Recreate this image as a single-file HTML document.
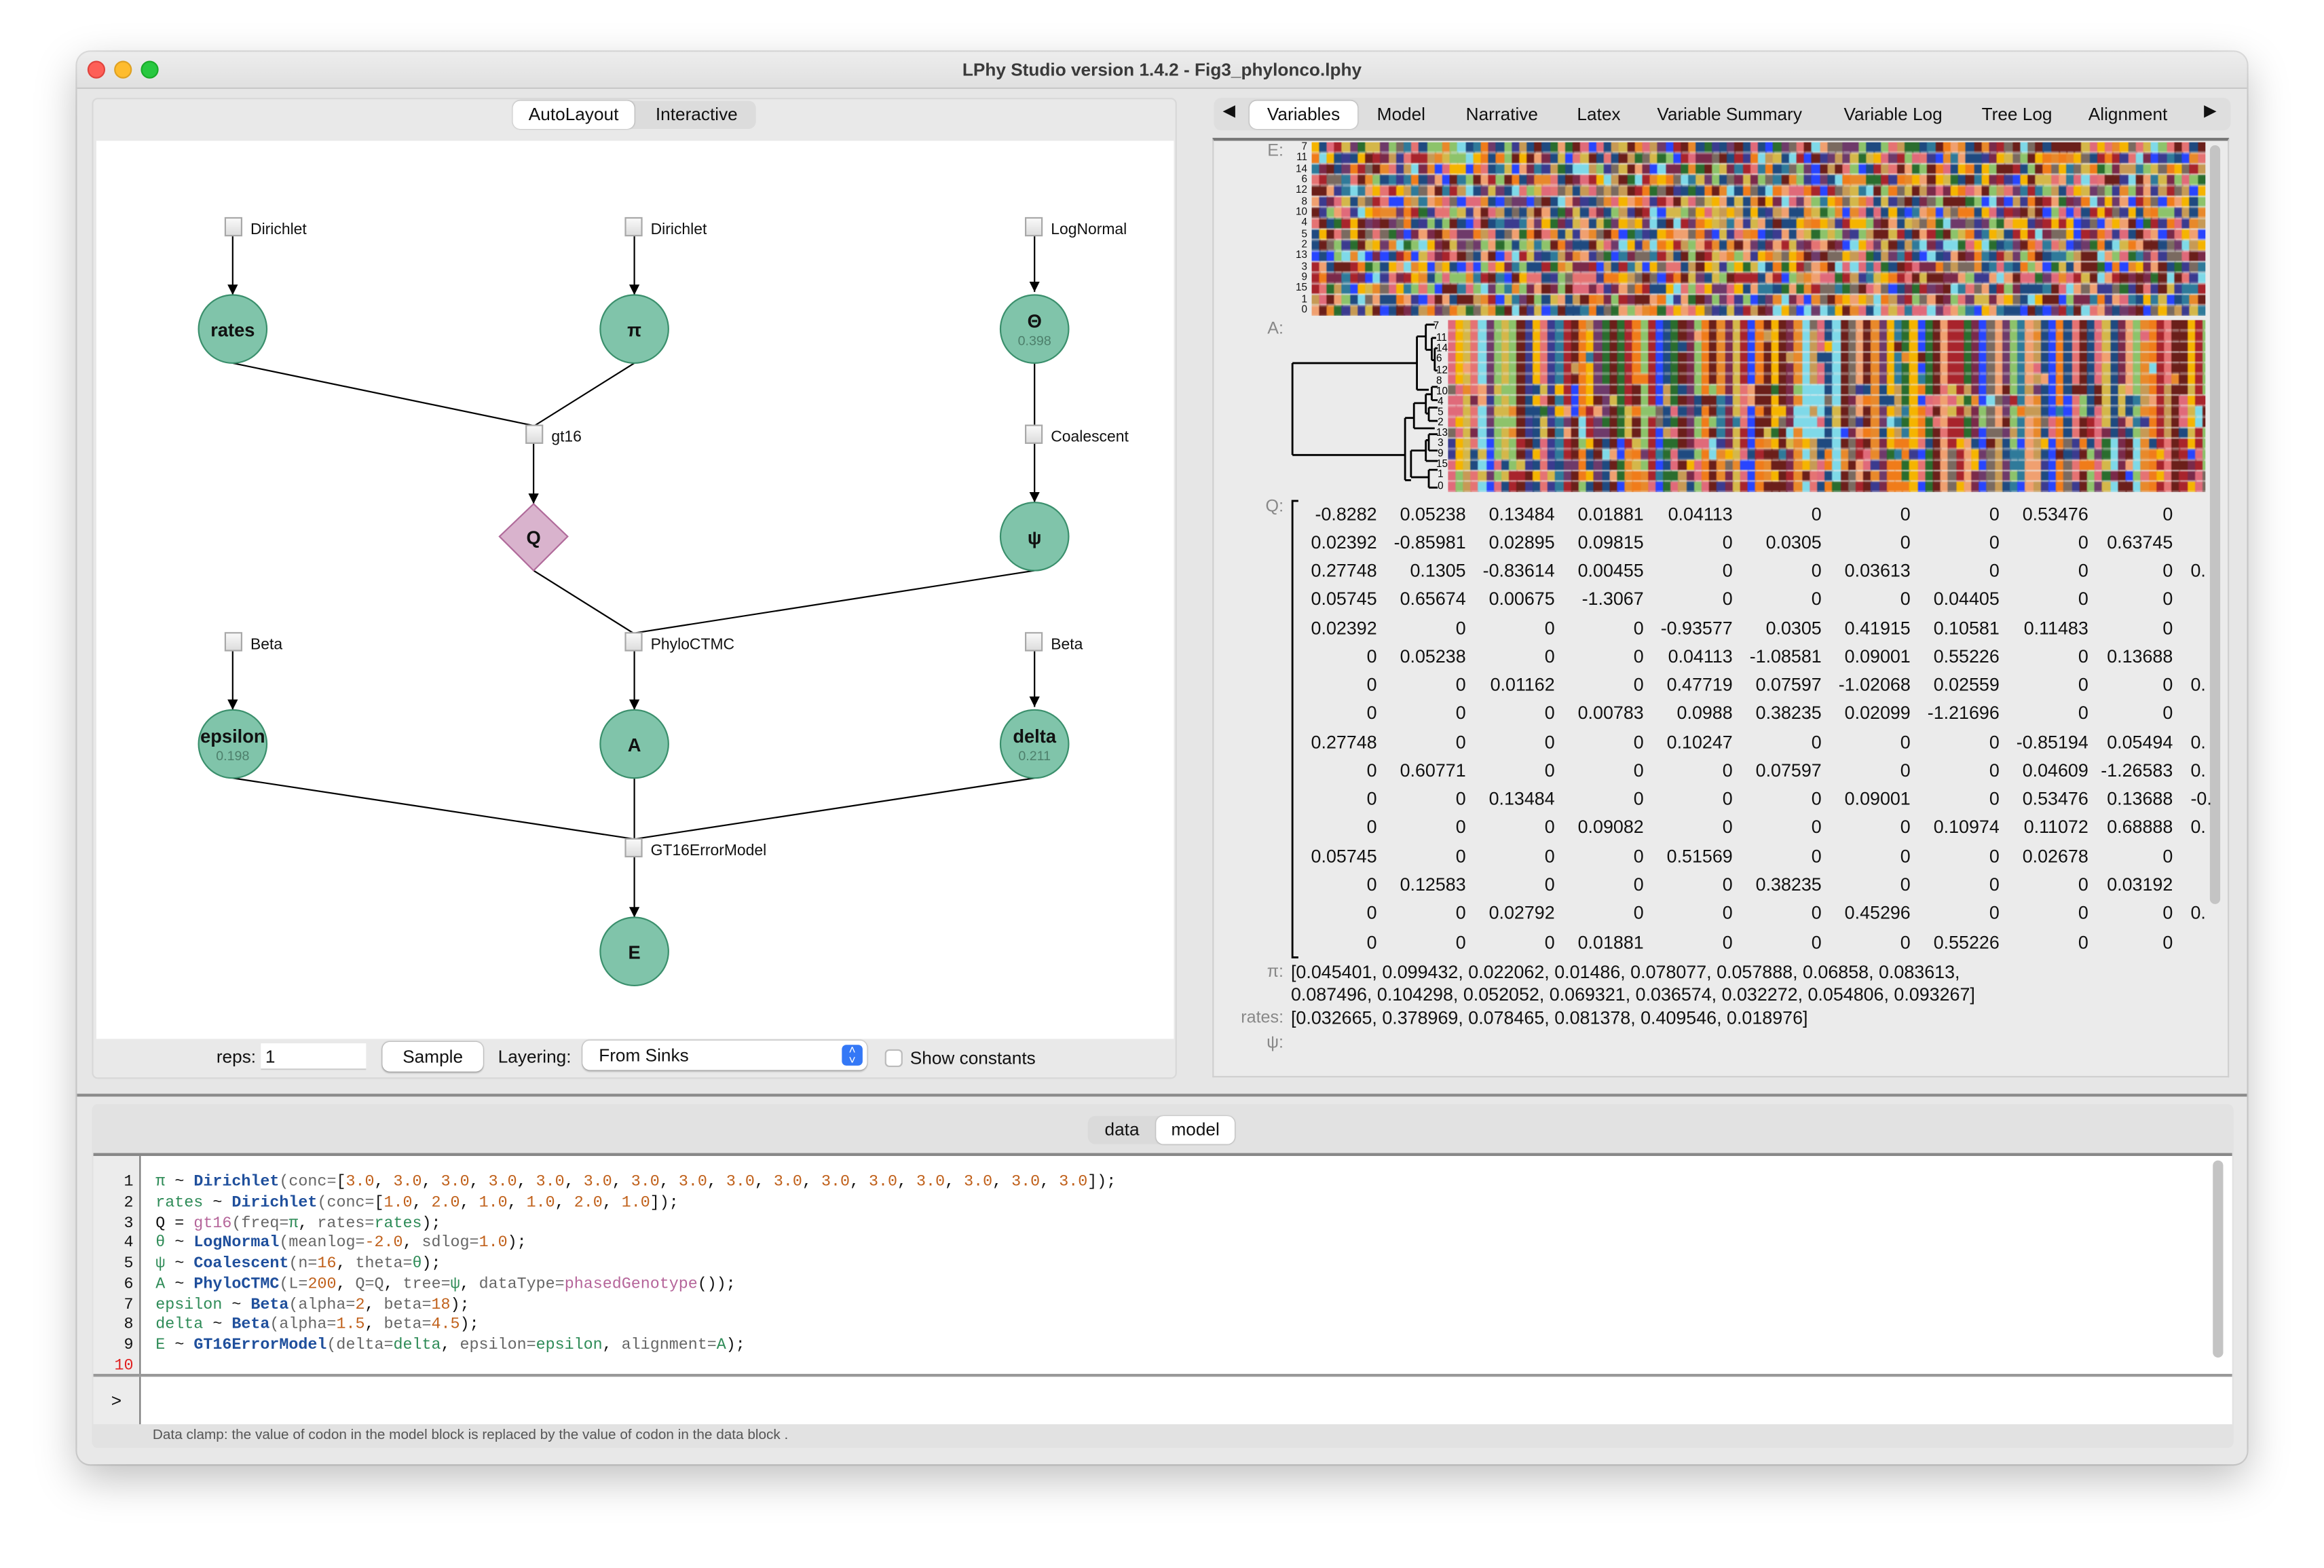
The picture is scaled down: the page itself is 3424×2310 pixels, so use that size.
<!DOCTYPE html>
<html><head><meta charset="utf-8">
<style>
*{box-sizing:border-box;margin:0;padding:0}
html,body{width:3424px;height:2310px;overflow:hidden;background:#fff}
#root{position:absolute;left:0;top:0;width:1568px;height:1058px;transform:scale(2.18367,2.18336);transform-origin:0 0;font-family:"Liberation Sans","DejaVu Sans",sans-serif;color:#111}
.abs{position:absolute}
.win{left:52px;top:35px;width:1464px;height:953px;background:#ececec;border-radius:9px;box-shadow:0 10px 28px rgba(0,0,0,.25),0 0 0 1px rgba(0,0,0,.12);overflow:hidden}
.title{left:0;top:0;width:1464px;height:25px;background:linear-gradient(#ededed,#e0e0e0);border-bottom:1px solid #c8c8c8;text-align:center;font-size:12px;font-weight:bold;line-height:25px;color:#3a3a3a}
.dot{width:12px;height:12px;border-radius:50%;top:6px}
.tab{font-size:12px;line-height:18px;text-align:center}
.q{font-size:12.3px;text-align:right;width:60px;white-space:pre}
.lbl{font-size:11.5px;color:#888;text-align:right}
.code{font-family:"Liberation Mono","DejaVu Sans Mono",monospace;font-size:10.7px;line-height:13.75px;white-space:pre}
.k{color:#1f4f9c;font-weight:bold}.g{color:#2e8b57}.o{color:#c0601a}.p{color:#b5659a}.y{color:#666}
</style></head><body><div id="root">
<div class="abs win">
  <div class="abs title">LPhy Studio version 1.4.2 - Fig3_phylonco.lphy</div>
  <div class="abs dot" style="left:7px;background:#fe5f57;border:1px solid #e0443e"></div>
  <div class="abs dot" style="left:25px;background:#febc2e;border:1px solid #dea123"></div>
  <div class="abs dot" style="left:43px;background:#28c840;border:1px solid #1aab29"></div>
  <div class="abs" style="left:0;top:25px;width:1464px;height:680px;background:#e6e6e6"></div>
</div>

<div class="abs" style="left:62px;top:66px;width:732px;height:662px;background:#e9e9e9;border:1px solid #d8d8d8;border-radius:4px"></div>
<div class="abs" style="left:346px;top:68px;width:164px;height:19px;background:#dcdcdc;border-radius:5px"></div>
<div class="abs tab" style="left:346px;top:68px;width:82px;height:19px;background:#fff;border-radius:5px;box-shadow:0 0 1px #999">AutoLayout</div>
<div class="abs tab" style="left:430px;top:68px;width:80px">Interactive</div>
<div class="abs" style="left:65px;top:95px;width:727px;height:606px;background:#fff"></div>

<svg class="abs" style="left:0;top:0" width="1568" height="1058">
<defs><marker id="ar" viewBox="0 0 10 10" refX="10" refY="5" markerWidth="7" markerHeight="9" orient="auto" markerUnits="userSpaceOnUse"><path d="M0,0L10,5L0,10z" fill="#000"/></marker>
<linearGradient id="sq" x1="0" y1="0" x2="0" y2="1"><stop offset="0" stop-color="#fafafa"/><stop offset="1" stop-color="#dcdcdc"/></linearGradient></defs>
<g stroke="#000" stroke-width="1" fill="none">
<line x1="157" y1="159" x2="157" y2="199" marker-end="url(#ar)"/>
<line x1="428" y1="159" x2="428" y2="199" marker-end="url(#ar)"/>
<line x1="698" y1="159" x2="698" y2="197" marker-end="url(#ar)"/>
<line x1="157" y1="245" x2="359" y2="287"/>
<line x1="428" y1="245" x2="361" y2="287"/>
<line x1="360" y1="299" x2="360" y2="340" marker-end="url(#ar)"/>
<line x1="698" y1="245" x2="698" y2="287"/>
<line x1="698" y1="299" x2="698" y2="339" marker-end="url(#ar)"/>
<line x1="360" y1="385" x2="427" y2="427"/>
<line x1="698" y1="385" x2="429" y2="427"/>
<line x1="157" y1="439" x2="157" y2="479" marker-end="url(#ar)"/>
<line x1="428" y1="439" x2="428" y2="479" marker-end="url(#ar)"/>
<line x1="698" y1="439" x2="698" y2="477" marker-end="url(#ar)"/>
<line x1="157" y1="525" x2="427" y2="566"/>
<line x1="428" y1="525" x2="428" y2="566"/>
<line x1="698" y1="525" x2="429" y2="566"/>
<line x1="428" y1="578" x2="428" y2="619" marker-end="url(#ar)"/>
</g>
<g fill="url(#sq)" stroke="#a8a8a8" stroke-width="1">
<rect x="152" y="147" width="11" height="12"/><rect x="422" y="147" width="11" height="12"/><rect x="692" y="147" width="11" height="12"/>
<rect x="355" y="287" width="11" height="12"/><rect x="692" y="287" width="11" height="12"/>
<rect x="152" y="427" width="11" height="12"/><rect x="422" y="427" width="11" height="12"/><rect x="692" y="427" width="11" height="12"/>
<rect x="422" y="566" width="11" height="12"/>
</g>
<g font-family="Liberation Sans,sans-serif" font-size="10.5" fill="#111">
<text x="169" y="158">Dirichlet</text><text x="439" y="158">Dirichlet</text><text x="709" y="158">LogNormal</text>
<text x="372" y="298">gt16</text><text x="709" y="298">Coalescent</text>
<text x="169" y="438">Beta</text><text x="439" y="438">PhyloCTMC</text><text x="709" y="438">Beta</text>
<text x="439" y="577">GT16ErrorModel</text>
</g>
<g fill="#80c4aa" stroke="#3a8f6c" stroke-width="1">
<circle cx="157" cy="222" r="23"/><circle cx="428" cy="222" r="23"/><circle cx="698" cy="222" r="23"/>
<circle cx="698" cy="362" r="23"/><circle cx="157" cy="502" r="23"/><circle cx="428" cy="502" r="23"/>
<circle cx="698" cy="502" r="23"/><circle cx="428" cy="642" r="23"/>
</g>
<path d="M360,340L383,362L360,385L337,362Z" fill="#d9b3cd" stroke="#b06a9a"/>
<g font-family="Liberation Sans,sans-serif" font-weight="bold" font-size="12.5" fill="#111" text-anchor="middle">
<text x="157" y="227">rates</text><text x="428" y="227">π</text><text x="698" y="221">Θ</text>
<text x="698" y="367">ψ</text><text x="157" y="501">epsilon</text><text x="428" y="507">A</text>
<text x="698" y="501">delta</text><text x="428" y="647">E</text><text x="360" y="367">Q</text>
</g>
<g font-family="Liberation Sans,sans-serif" font-size="9" fill="#4d7f6b" text-anchor="middle">
<text x="698" y="233">0.398</text><text x="157" y="513">0.198</text><text x="698" y="513">0.211</text>
</g>
</svg>

<div class="abs" style="left:146px;top:706px;font-size:12px">reps:</div>
<div class="abs" style="left:176px;top:704px;width:71px;height:18px;background:#fff;border-bottom:1px solid #ccc;font-size:12px;padding-left:3px;line-height:18px">1</div>
<div class="abs tab" style="left:258px;top:703px;width:68px;height:20px;background:#fff;border-radius:5px;box-shadow:0 0 1px #888,0 1px 1px #bbb;line-height:20px">Sample</div>
<div class="abs" style="left:336px;top:706px;font-size:12px">Layering:</div>
<div class="abs" style="left:393px;top:702px;width:192px;height:20px;background:#fff;border-radius:5px;box-shadow:0 0 1px #888,0 1px 1px #bbb;font-size:12px;line-height:20px;padding-left:11px">From Sinks</div>
<div class="abs" style="left:568px;top:705px;width:14px;height:14px;background:#3478f6;border-radius:3px;color:#fff;font-size:8px;text-align:center;line-height:7px">˄<br>˅</div>
<div class="abs" style="left:597px;top:708px;width:12px;height:12px;background:#fff;border:1px solid #bbb;border-radius:3px"></div>
<div class="abs" style="left:614px;top:707px;font-size:12px">Show constants</div>

<div class="abs" style="left:819px;top:66px;width:686px;height:22px;background:#dedede;border-radius:5px"></div>
<div class="abs" style="left:825px;top:68px;font-size:11px">◀</div>
<div class="abs" style="left:1487px;top:68px;font-size:11px">▶</div>
<div class="abs tab" style="left:843px;top:68px;width:73px;height:19px;background:#fff;border-radius:5px;box-shadow:0 0 1px #999">Variables</div>
<div class="abs tab" style="left:929px;top:68px">Model</div>
<div class="abs tab" style="left:989px;top:68px">Narrative</div>
<div class="abs tab" style="left:1064px;top:68px">Latex</div>
<div class="abs tab" style="left:1118px;top:68px">Variable Summary</div>
<div class="abs tab" style="left:1244px;top:68px">Variable Log</div>
<div class="abs tab" style="left:1337px;top:68px">Tree Log</div>
<div class="abs tab" style="left:1409px;top:68px">Alignment</div>
<div class="abs" style="left:818px;top:93px;width:686px;height:634px;background:#ebebeb;border:1px solid #cfcfcf;border-top:2px solid #777"></div>
<div class="abs" style="left:1491px;top:98px;width:7px;height:512px;background:#c4c4c4;border-radius:4px"></div>
<div class="abs lbl" style="left:850px;top:96px;width:16px">E:</div>
<div class="abs lbl" style="left:850px;top:216px;width:16px">A:</div>
<div class="abs lbl" style="left:850px;top:336px;width:16px">Q:</div>
<div id="elab" class="abs" style="left:866px;top:96px;width:16px;font-size:7px;line-height:7.35px;text-align:right;color:#111"></div>
<canvas id="cE" class="abs" width="603" height="117" style="left:885px;top:96px;width:603px;height:117px"></canvas>
<canvas id="cA" class="abs" width="511" height="116" style="left:977px;top:216px;width:511px;height:116px"></canvas>
<svg class="abs" style="left:866px;top:214px" width="111" height="120">
<g stroke="#000" stroke-width="1.3" fill="none">
<path d="M6,31V93M6,31H90M6,93H82"/>
<path d="M90,13V49M90,49H98M90,13H96M96,5V22M96,5H102M96,22H100M100,14V29M100,14H103M100,29H102M102,21V36M102,21H104M102,36H104"/>
<path d="M82,68V110"/>
<path d="M82,68H88M88,58V75M88,58H96M88,75H102M96,52V65M96,52H100M100,47V56M100,47H104M100,56H104M96,65H98M98,61V70M98,61H104M98,70H104"/>
<path d="M82,110H86M86,90V108M86,90H96M96,83V97M96,83H98M98,79V90M98,79H104M98,90H104M96,97H104M86,108H98M98,103V115M98,103H104M98,115H104"/>
</g>
<g font-family="Liberation Sans,sans-serif" font-size="7" fill="#000">
<text x="101" y="8">7</text><text x="103" y="16">11</text><text x="103" y="23">14</text><text x="103" y="30">6</text><text x="103" y="38">12</text><text x="103" y="45">8</text>
<text x="103" y="52">10</text><text x="104" y="59">4</text><text x="104" y="66">5</text><text x="104" y="73">2</text><text x="103" y="80">13</text>
<text x="104" y="87">3</text><text x="104" y="94">9</text><text x="103" y="101">15</text><text x="104" y="108">1</text><text x="104" y="116">0</text>
</g></svg>
<svg class="abs" style="left:868px;top:337px" width="10" height="312"><path d="M8,1H4V309H8" stroke="#000" stroke-width="1.3" fill="none"/></svg>
<div id="qm" class="abs" style="left:0;top:0"></div>
<div class="abs lbl" style="left:836px;top:650px;width:30px">π:</div>
<div class="abs" style="left:871px;top:649px;font-size:12.3px;line-height:15px">[0.045401, 0.099432, 0.022062, 0.01486, 0.078077, 0.057888, 0.06858, 0.083613,<br>0.087496, 0.104298, 0.052052, 0.069321, 0.036574, 0.032272, 0.054806, 0.093267]</div>
<div class="abs lbl" style="left:826px;top:681px;width:40px">rates:</div>
<div class="abs" style="left:871px;top:680px;font-size:12.3px">[0.032665, 0.378969, 0.078465, 0.081378, 0.409546, 0.018976]</div>
<div class="abs lbl" style="left:836px;top:698px;width:30px">ψ:</div>

<div class="abs" style="left:52px;top:738px;width:1464px;height:2px;background:#8a8a8a"></div>
<div class="abs" style="left:52px;top:740px;width:1464px;height:248px;background:#e8e8e8;border-radius:0 0 9px 9px"></div>
<div class="abs" style="left:62px;top:745px;width:1445px;height:232px;background:#e2e2e2;border-radius:4px"></div>
<div class="abs" style="left:734px;top:753px;width:100px;height:19px;background:#dadada;border-radius:5px"></div>
<div class="abs tab" style="left:736px;top:753px;width:42px">data</div>
<div class="abs tab" style="left:780px;top:753px;width:53px;height:19px;background:#fff;border-radius:5px;box-shadow:0 0 1px #999">model</div>
<div class="abs" style="left:63px;top:778px;width:1443px;height:2px;background:#888"></div>
<div class="abs" style="left:63px;top:780px;width:32px;height:147px;background:#ececec;border-right:1px solid #777"></div>
<div class="abs" style="left:95px;top:780px;width:1411px;height:147px;background:#fff"></div>
<div class="abs" style="left:1493px;top:783px;width:7px;height:133px;background:#c4c4c4;border-radius:4px"></div>
<div class="abs code" style="left:63px;top:792px;width:27px;text-align:right">1
2
3
4
5
6
7
8
9
<span style="color:#e02020">10</span></div>
<div class="abs code" style="left:105px;top:792px"><span class="g">π</span> ~ <span class="k">Dirichlet</span><span class="y">(conc=</span>[<span class="o">3.0</span>, <span class="o">3.0</span>, <span class="o">3.0</span>, <span class="o">3.0</span>, <span class="o">3.0</span>, <span class="o">3.0</span>, <span class="o">3.0</span>, <span class="o">3.0</span>, <span class="o">3.0</span>, <span class="o">3.0</span>, <span class="o">3.0</span>, <span class="o">3.0</span>, <span class="o">3.0</span>, <span class="o">3.0</span>, <span class="o">3.0</span>, <span class="o">3.0</span>]);
<span class="g">rates</span> ~ <span class="k">Dirichlet</span><span class="y">(conc=</span>[<span class="o">1.0</span>, <span class="o">2.0</span>, <span class="o">1.0</span>, <span class="o">1.0</span>, <span class="o">2.0</span>, <span class="o">1.0</span>]);
Q = <span class="p">gt16</span><span class="y">(freq=</span><span class="g">π</span>, <span class="y">rates=</span><span class="g">rates</span>);
<span class="g">θ</span> ~ <span class="k">LogNormal</span><span class="y">(meanlog=</span><span class="o">-2.0</span>, <span class="y">sdlog=</span><span class="o">1.0</span>);
<span class="g">ψ</span> ~ <span class="k">Coalescent</span><span class="y">(n=</span><span class="o">16</span>, <span class="y">theta=</span><span class="g">θ</span>);
<span class="g">A</span> ~ <span class="k">PhyloCTMC</span><span class="y">(L=</span><span class="o">200</span>, <span class="y">Q=Q</span>, <span class="y">tree=</span><span class="g">ψ</span>, <span class="y">dataType=</span><span class="p">phasedGenotype</span>());
<span class="g">epsilon</span> ~ <span class="k">Beta</span><span class="y">(alpha=</span><span class="o">2</span>, <span class="y">beta=</span><span class="o">18</span>);
<span class="g">delta</span> ~ <span class="k">Beta</span><span class="y">(alpha=</span><span class="o">1.5</span>, <span class="y">beta=</span><span class="o">4.5</span>);
<span class="g">E</span> ~ <span class="k">GT16ErrorModel</span><span class="y">(delta=</span><span class="g">delta</span>, <span class="y">epsilon=</span><span class="g">epsilon</span>, <span class="y">alignment=</span><span class="g">A</span>);</div>
<div class="abs" style="left:63px;top:927px;width:1443px;height:2px;background:#999"></div>
<div class="abs" style="left:63px;top:929px;width:32px;height:32px;background:#ececec;border-right:1px solid #777;font-size:12px;text-align:center;line-height:32px">&gt;</div>
<div class="abs" style="left:95px;top:929px;width:1411px;height:32px;background:#fff"></div>
<div class="abs" style="left:103px;top:963px;font-size:9.5px;color:#555">Data clamp: the value of codon in the model block is replaced by the value of codon in the data block .</div>
</div>
<script>
var Q=[
"-0.8282 0.05238 0.13484 0.01881 0.04113 0 0 0 0.53476 0",
"0.02392 -0.85981 0.02895 0.09815 0 0.0305 0 0 0 0.63745",
"0.27748 0.1305 -0.83614 0.00455 0 0 0.03613 0 0 0 0.",
"0.05745 0.65674 0.00675 -1.3067 0 0 0 0.04405 0 0",
"0.02392 0 0 0 -0.93577 0.0305 0.41915 0.10581 0.11483 0",
"0 0.05238 0 0 0.04113 -1.08581 0.09001 0.55226 0 0.13688",
"0 0 0.01162 0 0.47719 0.07597 -1.02068 0.02559 0 0 0.",
"0 0 0 0.00783 0.0988 0.38235 0.02099 -1.21696 0 0",
"0.27748 0 0 0 0.10247 0 0 0 -0.85194 0.05494 0.",
"0 0.60771 0 0 0 0.07597 0 0 0.04609 -1.26583 0.",
"0 0 0.13484 0 0 0 0.09001 0 0.53476 0.13688 -0.",
"0 0 0 0.09082 0 0 0 0.10974 0.11072 0.68888 0.",
"0.05745 0 0 0 0.51569 0 0 0 0.02678 0",
"0 0.12583 0 0 0 0.38235 0 0 0 0.03192",
"0 0 0.02792 0 0 0 0.45296 0 0 0 0.",
"0 0 0 0.01881 0 0 0 0.55226 0 0"];
var h="",R=[929,989,1049,1109,1169,1229,1289,1349,1409,1466];
Q.forEach(function(r,i){var c=r.split(" ");var y=339.5+i*19.27;c.forEach(function(v,j){
if(j<10)h+='<div class="abs q" style="left:'+(R[j]-60)+'px;top:'+y+'px">'+v+'</div>';
else h+='<div class="abs" style="left:1478px;top:'+y+'px;font-size:12.3px">'+v+'</div>';});});
document.getElementById("qm").innerHTML=h;
document.getElementById("elab").innerHTML="7<br>11<br>14<br>6<br>12<br>8<br>10<br>4<br>5<br>2<br>13<br>3<br>9<br>15<br>1<br>0";
var P=["#f5b400","#e8892b","#f07c1a","#6b1f1a","#a8242c","#e57373","#e06a7a","#2a6d2e","#1f4a80","#2845ff","#7fd9e8","#6e3a6a","#c79a55","#7a6a60","#3b3b8f","#8dc36b","#d4b74a","#2f7a9a","#f0a070","#6b1f1a","#1f4a80","#7a2a4a"];
var s=7;function rnd(){s=(s*16807)%2147483647;return s/2147483647;}
function pick(){return P[Math.floor(rnd()*P.length)];}
var e=document.getElementById("cE").getContext("2d");
for(var r=0;r<16;r++)for(var x=0;x<603;x+=5.2){e.fillStyle=pick();e.fillRect(Math.floor(x),r*7.35,6,6.6);}
var a=document.getElementById("cA").getContext("2d");
var cols=[];for(var x=0;x<511;x+=5.2){cols.push([pick(),pick(),pick()]);}
for(var r=0;r<16;r++){var cl=r<6?0:(r<11?1:2);var i=0;for(var x=0;x<511;x+=5.2,i++){var c=cols[i];var col=(rnd()<0.55?c[0]:c[cl]);if(rnd()<0.04)col=pick();a.fillStyle=col;a.fillRect(Math.floor(x),r*7.27,6,6.6);}}
</script>
</body></html>
